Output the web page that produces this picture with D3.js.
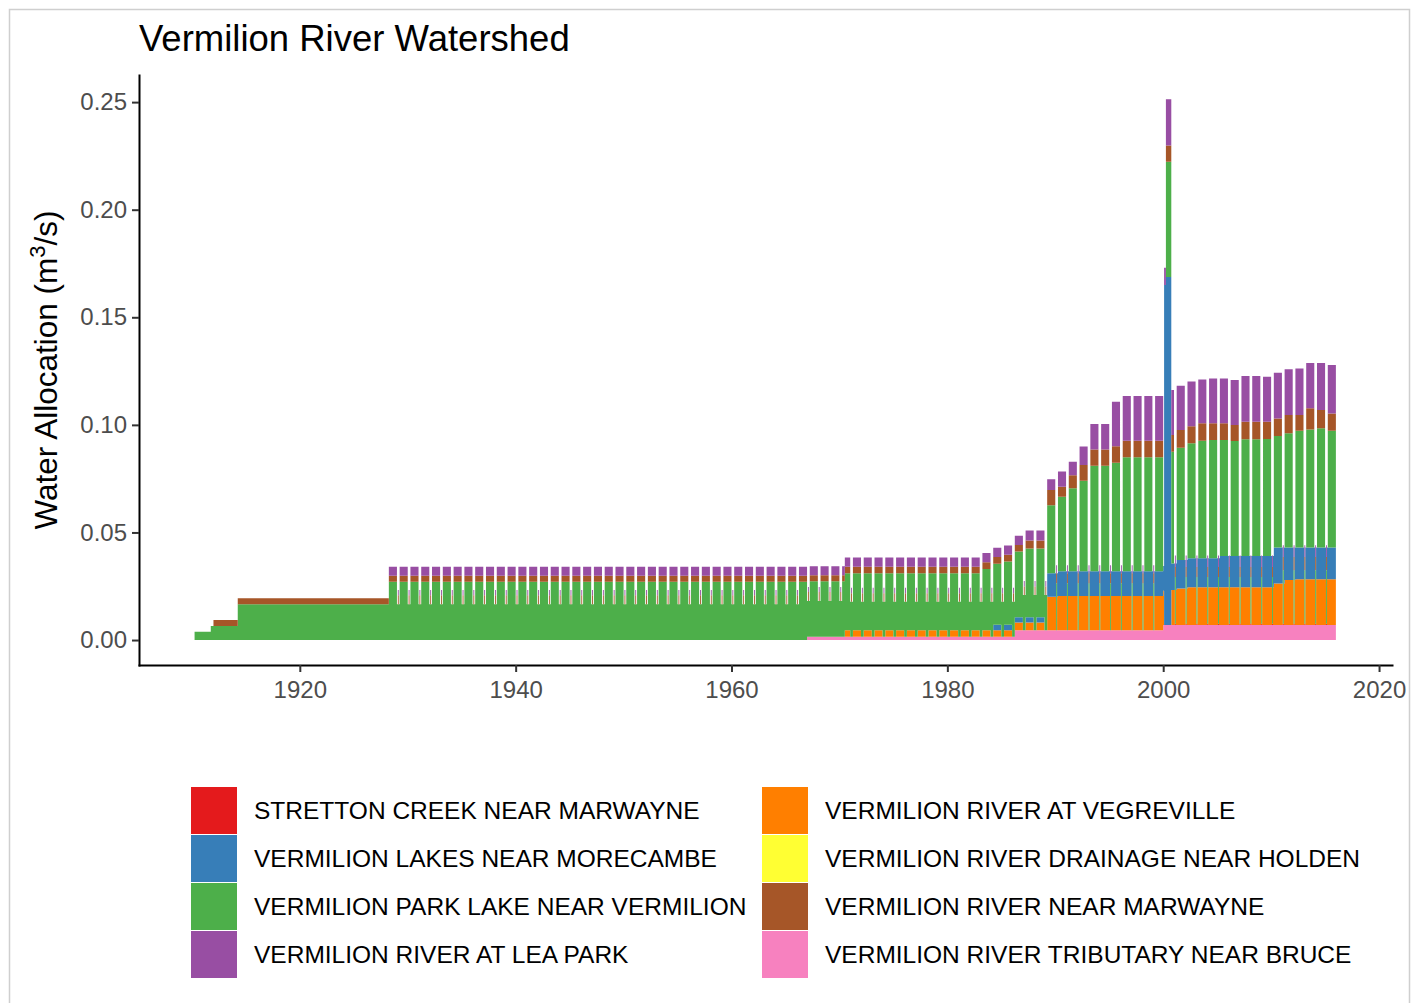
<!DOCTYPE html>
<html>
<head>
<meta charset="utf-8">
<script src="https://cdn.jsdelivr.net/npm/d3@7"></script>
<style>
  body { margin: 0; background: #fff; }
  svg text { font-family: "Liberation Sans", Arial, Helvetica, sans-serif; }
</style>
</head>
<body>
<div id="drawingArea"></div>
<script>
// stations, in legend order, with their Set1 colours
var stations = [
  "STRETTON CREEK NEAR MARWAYNE",
  "VERMILION LAKES NEAR MORECAMBE",
  "VERMILION PARK LAKE NEAR VERMILION",
  "VERMILION RIVER AT LEA PARK",
  "VERMILION RIVER AT VEGREVILLE",
  "VERMILION RIVER DRAINAGE NEAR HOLDEN",
  "VERMILION RIVER NEAR MARWAYNE",
  "VERMILION RIVER TRIBUTARY NEAR BRUCE"
];
var colors = ["#E41A1C", "#377EB8", "#4DAF4A", "#984EA3", "#FF7F00", "#FFFF33", "#A65628", "#F781BF"];

// allocation (m3/s) per station, each row = [from year, summer, winter, off-season]
var strettonCreek = [
  [2001.00, 0, 0.0006, 0]
];
var lakesMorecambe = [
  [1984.25, 0.0025, 0, 0],
  [1989.25, 0.0109, 0, 0.0109],
  [1990.25, 0.0115, 0, 0.0115],
  [2000.0833, 0.1617, 0.158, 0.158],
  [2000.75, 0.0124, 0, 0.0124],
  [2001.25, 0.0132, 0, 0.0132],
  [2002.25, 0.0135, 0, 0.0135],
  [2005.25, 0.0145, 0, 0.0145],
  [2010.25, 0.0167, 0, 0.0167],
  [2011.25, 0.0151, 0, 0.0151],
  [2012.25, 0.0148, 0, 0.0148]
];
var parkLake = [
  [1910.25, 0.0038, 0.0038, 0.0038],
  [1911.75, 0.0065, 0.0065, 0.0065],
  [1914.25, 0.0166, 0.0166, 0.0166],
  [1928.25, 0.0271, 0.0166, 0.0166],
  [1967.00, 0.0258, 0.0166, 0.0166],
  [1970.50, 0.0264, 0.0163, 0.0163],
  [1983.25, 0.0284, 0.0163, 0.0163],
  [1985.25, 0.0294, 0.0163, 0.0163],
  [1986.25, 0.0305, 0.0163, 0.0163],
  [1987.25, 0.0320, 0.0163, 0.0163],
  [1989.25, 0.0317, 0.0218, 0],
  [1990.25, 0.0346, 0.0218, 0],
  [1991.25, 0.0385, 0.0218, 0],
  [1992.25, 0.0420, 0.0218, 0],
  [1993.25, 0.0490, 0.0218, 0],
  [1995.25, 0.0504, 0.0218, 0],
  [1996.25, 0.0529, 0.0218, 0],
  [2000.0833, 0.0536, 0, 0],
  [2000.75, 0.0519, 0.0217, 0],
  [2001.25, 0.0522, 0.0217, 0],
  [2002.25, 0.0534, 0.0217, 0],
  [2003.25, 0.0546, 0.0217, 0],
  [2004.25, 0.0550, 0.0217, 0],
  [2005.25, 0.0540, 0.0217, 0],
  [2006.25, 0.0535, 0.0217, 0],
  [2007.25, 0.0543, 0.0217, 0],
  [2009.25, 0.0544, 0.0217, 0],
  [2010.25, 0.0518, 0.0248, 0],
  [2011.25, 0.0531, 0.0248, 0],
  [2012.25, 0.0543, 0.0248, 0],
  [2013.25, 0.0549, 0.0248, 0],
  [2014.25, 0.0554, 0.0248, 0],
  [2015.25, 0.0543, 0.0248, 0]
];
var leaPark = [
  [1928.25, 0.0042, 0.0024, 0],
  [1970.50, 0.0043, 0.0025, 0],
  [1987.25, 0.0046, 0.0025, 0],
  [1989.25, 0.0050, 0.0038, 0],
  [1990.25, 0.0071, 0.0038, 0],
  [1991.25, 0.0063, 0.0038, 0],
  [1992.25, 0.0086, 0.0038, 0],
  [1993.25, 0.0118, 0.0038, 0],
  [1995.25, 0.0207, 0.0038, 0],
  [1996.25, 0.0208, 0.0038, 0],
  [2000.0833, 0.0215, 0.0080, 0.0080],
  [2000.75, 0.0209, 0.0054, 0],
  [2001.25, 0.0206, 0.0054, 0],
  [2002.25, 0.0207, 0.0054, 0],
  [2003.25, 0.0204, 0.0054, 0],
  [2004.25, 0.0209, 0.0054, 0],
  [2007.25, 0.0212, 0.0054, 0],
  [2009.25, 0.0209, 0.0054, 0],
  [2010.25, 0.0212, 0.0054, 0],
  [2011.25, 0.0213, 0.0054, 0],
  [2012.25, 0.0216, 0.0054, 0],
  [2013.25, 0.0211, 0.0054, 0],
  [2014.25, 0.0219, 0.0054, 0],
  [2015.25, 0.0225, 0.0054, 0]
];
var vegreville = [
  [1970.50, 0.0031, 0, 0],
  [1986.25, 0.0035, 0, 0],
  [1989.25, 0.0155, 0, 0.0155],
  [1990.25, 0.0159, 0, 0.0159],
  [2000.0833, 0, 0, 0],
  [2000.75, 0.0162, 0, 0.0162],
  [2001.25, 0.0170, 0, 0.0170],
  [2002.25, 0.0175, 0, 0.0175],
  [2010.25, 0.0193, 0, 0.0193],
  [2011.25, 0.0209, 0, 0.0209],
  [2012.25, 0.0212, 0, 0.0212]
];
var drainageHolden = [];
var nearMarwayne = [
  [1912.00, 0.0028, 0.0028, 0.0028],
  [1928.25, 0.0028, 0.0042, 0],
  [1970.50, 0.0031, 0.0040, 0],
  [1987.25, 0.0037, 0.0040, 0],
  [1989.25, 0.0070, 0.0046, 0],
  [1990.25, 0.0046, 0.0046, 0],
  [1991.25, 0.0061, 0.0046, 0],
  [1992.25, 0.0073, 0.0046, 0],
  [1993.25, 0.0076, 0.0046, 0],
  [1995.25, 0.0077, 0.0046, 0],
  [2000.0833, 0.0075, 0, 0],
  [2000.75, 0.0078, 0.0046, 0],
  [2001.25, 0.0082, 0.0046, 0],
  [2002.25, 0.0080, 0.0046, 0],
  [2003.25, 0.0081, 0.0046, 0],
  [2004.25, 0.0077, 0.0046, 0],
  [2006.25, 0.0074, 0.0046, 0],
  [2007.25, 0.0082, 0.0046, 0],
  [2009.25, 0.0081, 0.0046, 0],
  [2010.25, 0.0082, 0.0062, 0],
  [2011.25, 0.0085, 0.0062, 0],
  [2012.25, 0.0073, 0.0062, 0],
  [2013.25, 0.0098, 0.0062, 0],
  [2014.25, 0.0085, 0.0062, 0],
  [2015.25, 0.0080, 0.0062, 0]
];
var tributaryBruce = [
  [1967.00, 0.0015, 0.0015, 0.0015],
  [1986.25, 0.0046, 0.0046, 0.0046],
  [2000.00, 0.0070, 0.0070, 0.0070]
];

var allocations = [strettonCreek, lakesMorecambe, parkLake, leaPark,
                   vegreville, drainageHolden, nearMarwayne, tributaryBruce];

// stacking order, bottom to top (indices into stations)
var stackOrder = [7, 4, 0, 1, 2, 6, 3, 5];

// which column of a row each month uses: Jan off, Feb winter, Mar off, Apr-Dec summer
var seasonColumn = [3, 2, 3, 1, 1, 1, 1, 1, 1, 1, 1, 1];

var firstMonth = 1910.25, lastMonth = 2016;
var xTicks = [1920, 1940, 1960, 1980, 2000, 2020];
var yTicks = [0, 0.05, 0.10, 0.15, 0.20, 0.25];

function allocationAt(rows, t, col) {
    var v = 0;
    rows.forEach(function(r) { if (r[0] <= t + 0.001) v = r[col]; });
    return v;
}

// one record per month
var table = [];
for (var yr = Math.floor(firstMonth); yr < lastMonth; yr++) {
    for (var m = 0; m < 12; m++) {
        var t = yr + m / 12;
        if (t < firstMonth - 0.001) continue;
        var rec = {t: t};
        stations.forEach(function(s, i) {
            rec[s] = allocationAt(allocations[i], t, seasonColumn[m]);
        });
        table.push(rec);
    }
}
// closing point so the last month has a width
var closing = Object.assign({}, table[table.length - 1]);
closing.t = lastMonth;
table.push(closing);

var W = 1416, H = 1003;
var panel = {left: 139, right: 1392, top: 75, bottom: 665};

var svg = d3.select("#drawingArea").append("svg")
    .attr("width", W)
    .attr("height", H);

svg.append("rect")
    .attr("width", W).attr("height", H)
    .attr("fill", "#fff");

// light frame round the figure
svg.append("rect")
    .attr("x", 9.5).attr("y", 9.5)
    .attr("width", 1400).attr("height", 1010)
    .attr("fill", "none")
    .attr("stroke", "#cfcfcf")
    .attr("stroke-width", 1.5);

var x = d3.scaleLinear()
    .domain([1905.1, 2021.2])
    .range([panel.left, panel.right]);

var y = d3.scaleLinear()
    .domain([-0.0116, 0.2626])
    .range([panel.bottom, panel.top]);

var stack = d3.stack()
    .keys(stackOrder.map(function(i) { return stations[i]; }))
    .order(d3.stackOrderNone)
    .offset(d3.stackOffsetNone);

var layers = stack(table);

var area = d3.area()
    .curve(d3.curveStepAfter)
    .x(function(d) { return x(d.data.t); })
    .y0(function(d) { return y(d[0]); })
    .y1(function(d) { return y(d[1]); });

svg.append("g")
    .selectAll("path")
    .data(layers)
    .enter().append("path")
    .attr("fill", function(d) { return colors[stations.indexOf(d.key)]; })
    .attr("d", area);

// x axis
var gx = svg.append("g")
    .attr("transform", "translate(0," + panel.bottom + ")")
    .call(d3.axisBottom(x)
        .tickValues(xTicks)
        .tickFormat(d3.format("d"))
        .tickSize(7)
        .tickSizeOuter(0)
        .tickPadding(9));

// y axis
var gy = svg.append("g")
    .attr("transform", "translate(" + panel.left + ",0)")
    .call(d3.axisLeft(y)
        .tickValues(yTicks)
        .tickFormat(d3.format(".2f"))
        .tickSize(7)
        .tickSizeOuter(0)
        .tickPadding(5));

[gx, gy].forEach(function(g) {
    g.select(".domain").attr("stroke", "#000").attr("stroke-width", 2).attr("stroke-linecap", "square");
    g.selectAll(".tick line").attr("stroke", "#333").attr("stroke-width", 2);
    g.selectAll(".tick text")
        .attr("fill", "#4D4D4D")
        .style("font-size", "24px")
        .style("font-family", "'Liberation Sans', Arial, sans-serif");
});

// title
svg.append("text")
    .attr("x", 139)
    .attr("y", 51)
    .style("font-size", "36.5px")
    .attr("fill", "#000")
    .text("Vermilion River Watershed");

// y axis title
var yTitle = svg.append("text")
    .attr("transform", "translate(57," + ((panel.top + panel.bottom) / 2) + ") rotate(-90)")
    .style("text-anchor", "middle")
    .style("font-size", "31.5px")
    .attr("fill", "#000");
yTitle.append("tspan").text("Water Allocation (m");
yTitle.append("tspan").attr("dy", -12).style("font-size", "22px").text("3");
yTitle.append("tspan").attr("dy", 12).text("/s)");

// legend, two columns of four
var legend = svg.append("g");
stations.forEach(function(s, i) {
    var col = Math.floor(i / 4), row = i % 4;
    var kx = 191 + col * 571, ky = 787 + row * 48;
    legend.append("rect")
        .attr("x", kx).attr("y", ky)
        .attr("width", 46).attr("height", 47)
        .attr("fill", colors[i]);
    legend.append("text")
        .attr("x", kx + 63)
        .attr("y", ky + 32)
        .style("font-size", "24.5px")
        .attr("fill", "#000")
        .text(s);
});
</script>
</body>
</html>
